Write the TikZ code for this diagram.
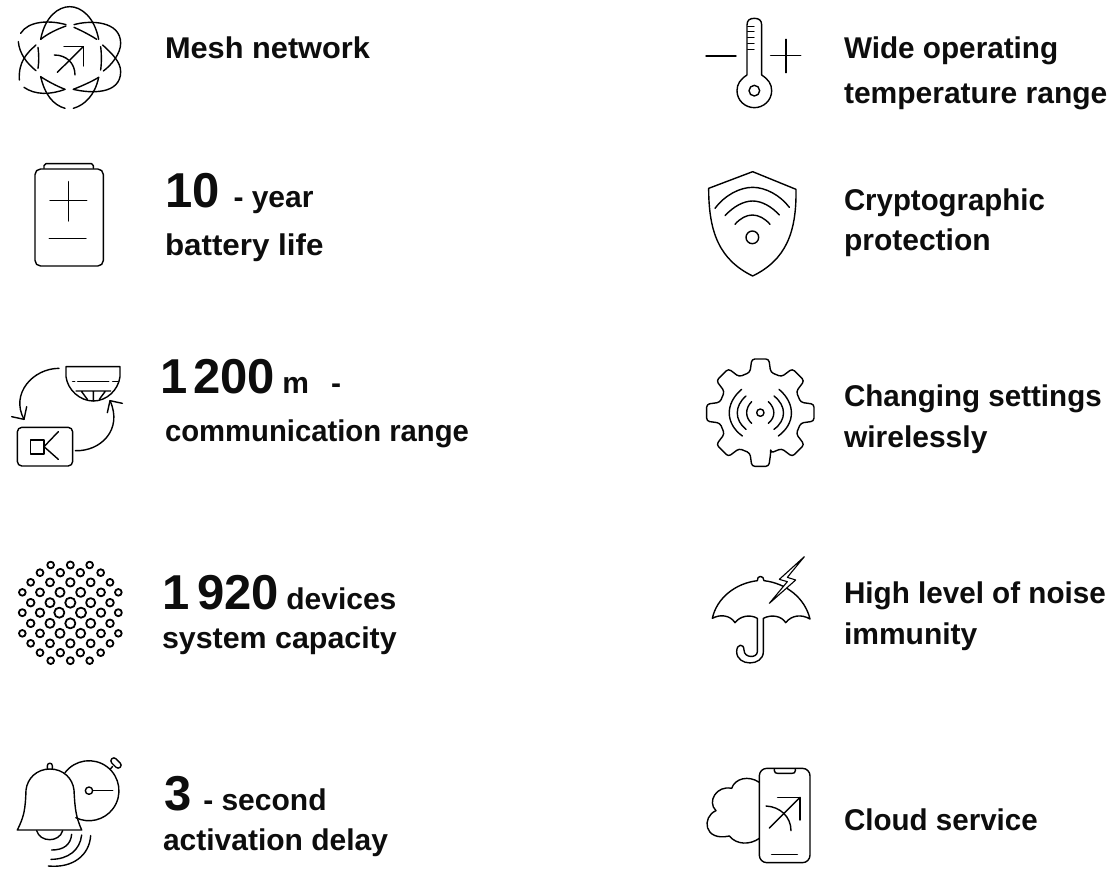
\documentclass[tikz,border=0pt]{standalone}
\usepackage{fontspec}
\setmainfont{Liberation Sans}[BoldFont={Liberation Sans Bold}]
\tikzset{
 lab/.style={anchor=base west,inner sep=0pt,outer sep=0pt,font=\fontsize{30}{32}\selectfont\bfseries,text=black!95},
 fit/.style={xscale=#1,transform shape},
 ic/.style={line width=1.4pt,line cap=round,line join=round,black},
 zoomed/.style={x=0.33333pt,y=-0.33333pt}
}
\newcommand{\bignum}[1]{{\fontsize{49}{50}\selectfont #1}}
\begin{document}
\begin{tikzpicture}[x=1pt,y=-1pt]
\useasboundingbox (0,0) rectangle (1113,868);
% texts
\node[lab,fit=1.025] (t1) at (165,58) {Mesh network};
\node[lab] (t2) at (165,207) {\bignum{10}\hspace{14pt}- year};
\node[lab,fit=1.045] (t2b) at (165,255) {battery life};
\node[lab] (t3) at (160,393) {\bignum{1\hspace{6pt}200}\hspace{-1pt} m\hspace{22pt}-};
\node[lab,fit=.975] (t3b) at (165,441) {communication range};
\node[lab] (t4) at (162,609) {\bignum{1\hspace{8pt}920}\hspace{-1pt} devices};
\node[lab,fit=1.013] (t4b) at (162,648) {system capacity};
\node[lab] (t5) at (164,810) {\bignum{3}\hspace{12pt}- second};
\node[lab] (t5b) at (163,850) {activation delay};
\node[lab,fit=.99] (r1) at (844,58) {Wide operating};
\node[lab] (r1b) at (844,103) {temperature range};
\node[lab,fit=.98] (r2) at (844,210) {Cryptographic};
\node[lab] (r2b) at (844,250) {protection};
\node[lab,fit=.985] (r3) at (844,406) {Changing settings};
\node[lab] (r3b) at (844,447) {wirelessly};
\node[lab,fit=.988] (r4) at (844,603) {High level of noise};
\node[lab] (r4b) at (844,644) {immunity};
\node[lab,fit=.985] (r5) at (844,830) {Cloud service};
% mesh + battery
\begin{scope}[zoomed,ic]
\draw (122,118) .. controls (135,50) and (175,20) .. (209,20) .. controls (243,20) and (283,50) .. (296,118);
\draw (62,100) .. controls (85,62) and (150,60) .. (198,74);
\draw (222,74) .. controls (270,60) and (362,62) .. (362,130) .. controls (362,160) and (335,195) .. (310,213);
\draw (308,135) .. controls (335,160) and (362,185) .. (362,215) .. controls (362,285) and (270,280) .. (220,268);
\draw (55,125) .. controls (58,160) and (80,190) .. (108,212);
\draw (108,135) .. controls (80,160) and (55,185) .. (58,240);
\draw (72,262) .. controls (105,285) and (150,285) .. (195,268);
\draw (122,230) .. controls (135,285) and (160,315) .. (195,325);
\draw (220,325) .. controls (255,315) and (285,285) .. (296,232);
\draw (122,118) .. controls (145,100) and (170,88) .. (198,78);
\draw (222,82) .. controls (245,92) and (270,105) .. (290,118);
\draw (122,230) .. controls (145,245) and (170,258) .. (195,268);
\draw (220,268) .. controls (245,258) and (275,245) .. (296,232);
\draw (114,142) .. controls (117,165) and (117,185) .. (114,205);
\draw (302,140) .. controls (305,165) and (305,185) .. (302,210);
\draw (172,217) -- (250,140);
\draw (192,140) -- (250,140) -- (250,198);
\draw (163,165) .. controls (200,165) and (225,190) .. (225,225);
\draw[rounded corners=5.5pt] (105,507) rectangle (310,798);
\draw (132,505) -- (132,497) -- (138,491) -- (275,491) -- (280,497) -- (280,505);
\draw (205,545) -- (205,663) (150,601) -- (260,601) (148,715) -- (258,715);
\end{scope}
% detector + dots
\begin{scope}[zoomed,ic,xshift=0pt,yshift=-340pt]
\draw (198,80) -- (360,80) -- (360,110) .. controls (355,150) and (320,183) .. (280,183) .. controls (240,183) and (203,150) .. (198,110) -- cycle;
\draw (218,125) -- (224,125) (233,125) -- (326,125) (338,125) -- (354,125);
\draw (228,153) -- (332,153) (245,155) -- (262,178) (280,155) -- (280,183) (315,155) -- (298,178);
\draw (177,85) .. controls (100,85) and (30,160) .. (72,238);
\draw (35,230) -- (72,238) -- (80,200);
\draw[rounded corners=4.5pt] (52,262) rectangle (218,378);
\draw (92,300) rectangle (132,342);
\draw (175,275) -- (132,320) -- (175,358);
\draw (226,332) .. controls (300,335) and (370,270) .. (330,182);
\draw (322,218) -- (330,182) -- (367,190);
\foreach \yy/\xlist in {675/{152,211,269},698/{120,181,241,302},727/{92,150,211,272,330},757/{67,120,180,242,303,355},788/{92,150,211,272,330},818/{67,120,178,243,303,355},850/{92,150,211,272,330},880/{67,120,180,242,303,355},910/{92,150,211,272,330},938/{120,181,241,302},962/{152,211,269}}{
  \foreach \xx in \xlist {
    \pgfmathsetmacro{\rr}{16.5-6*veclen(\xx-211,\yy-818)/145}
    \draw[line width=1.8pt] (\xx,\yy) circle[radius=\rr];
  }
}
\end{scope}
% bell
\begin{scope}[zoomed,ic,yshift=-700pt]
\draw (52,390) -- (245,390) .. controls (228,350) and (225,330) .. (222,270) .. controls (218,235) and (190,207) .. (150,207) .. controls (110,207) and (82,235) .. (78,270) .. controls (76,330) and (72,350) .. (52,390) -- cycle;
\draw (142,207) -- (142,197) arc[start angle=180,end angle=360,radius=7.5] -- (157,207);
\draw (110,392) .. controls (120,428) and (178,428) .. (188,392);
\draw (195,218) arc[start angle=217,end angle=476,radius=90];
\draw (267,272) circle[radius=11];
\draw (278,272) -- (338,272);
\draw (332,206) -- (338,199);
\draw[rounded corners=3pt,rotate around={-45:(348,189)}] (330,180) rectangle (366,198);
\draw (215,403) .. controls (212,435) and (190,450) .. (155,450);
\draw (245,405) .. controls (240,450) and (205,478) .. (153,478);
\draw (272,407) .. controls (268,465) and (220,505) .. (145,498);
\end{scope}
% thermometer + shield
\begin{scope}[zoomed,ic,xshift=680pt]
\draw (201,225) -- (201,75) .. controls (201,60) and (210,55) .. (223,55) .. controls (236,55) and (245,60) .. (245,75) -- (245,225) .. controls (265,238) and (275,252) .. (275,272) .. controls (275,302) and (250,323) .. (223,323) .. controls (196,323) and (171,302) .. (171,272) .. controls (171,252) and (181,238) .. (201,225);
\draw (223,272) circle[radius=16];
\draw[line width=1pt] (203,78) -- (222,78) (203,95) -- (222,95) (203,111) -- (222,111) (203,129) -- (222,129) (203,148) -- (222,148);
\draw (78,168) -- (168,168) (272,166) -- (362,166) (318,118) -- (318,218);
\draw (218,515) -- (348,568) .. controls (350,700) and (316,780) .. (218,828) .. controls (120,780) and (86,700) .. (86,565) -- cycle;
\draw (105,625) .. controls (135,585) and (180,562) .. (218,562) .. controls (256,562) and (300,585) .. (328,622);
\draw (135,647) .. controls (160,620) and (190,603) .. (218,603) .. controls (246,603) and (275,620) .. (298,645);
\draw (165,673) .. controls (180,655) and (200,645) .. (217,645) .. controls (235,645) and (255,655) .. (270,673);
\draw (217,712) circle[radius=19];
\end{scope}
% gear + umbrella
\begin{scope}[zoomed,ic,xshift=680pt,yshift=-340pt]
\begin{scope}[shift={(241,218)}]
\draw[rounded corners=3pt] (75.6:125)
 \foreach \a in {0,45,...,315} { -- ({\a+90-14.4}:125) -- ({\a+90-9}:163) -- ({\a+90+9}:163) -- ({\a+90+14.4}:125) } -- cycle;
\draw (0,0) circle[radius=11];
\end{scope}
\draw (215,185) .. controls (195,205) and (195,232) .. (215,250);
\draw (198,168) .. controls (163,198) and (163,240) .. (198,268);
\draw (185,148) .. controls (135,190) and (135,250) .. (187,288);
\draw (265,185) .. controls (287,205) and (287,232) .. (265,250);
\draw (282,168) .. controls (320,198) and (320,240) .. (282,268);
\draw (297,148) .. controls (347,190) and (347,250) .. (295,288);
\draw (97,835) .. controls (110,775) and (165,730) .. (232,722) .. controls (230,705) and (252,705) .. (252,722) .. controls (320,730) and (375,775) .. (390,837)
 .. controls (365,822) and (335,825) .. (317,848) .. controls (305,828) and (275,822) .. (250,835)
 -- (250,935) .. controls (250,980) and (170,980) .. (170,935) .. controls (170,910) and (192,910) .. (192,930) .. controls (192,955) and (232,955) .. (232,935) -- (232,835)
 .. controls (210,822) and (180,828) .. (165,848) .. controls (150,825) and (120,822) .. (97,835) -- cycle;
\draw[fill=white,line width=1.1pt] (373,650) -- (298,718) -- (322,725) -- (268,790) -- (347,720) -- (322,712) -- cycle;
\end{scope}
% cloud + phone
\begin{scope}[zoomed,ic,xshift=680pt,yshift=-740pt]
\draw (238,127) .. controls (205,105) and (165,115) .. (155,145) .. controls (110,135) and (80,185) .. (108,212) .. controls (65,230) and (70,305) .. (148,288) .. controls (170,315) and (210,315) .. (238,295);
\draw[rounded corners=7.5pt] (238,85) rectangle (390,368);
\draw (283,88) -- (283,92) .. controls (283,98) and (288,100) .. (293,100) -- (336,100) .. controls (342,100) and (346,98) .. (346,92) -- (346,88);
\draw (275,344) -- (352,344);
\draw (268,264) -- (360,172);
\draw (293,172) -- (360,172) -- (360,240);
\draw (258,198) .. controls (300,200) and (333,230) .. (333,272);
\end{scope}
\end{tikzpicture}
\end{document}
